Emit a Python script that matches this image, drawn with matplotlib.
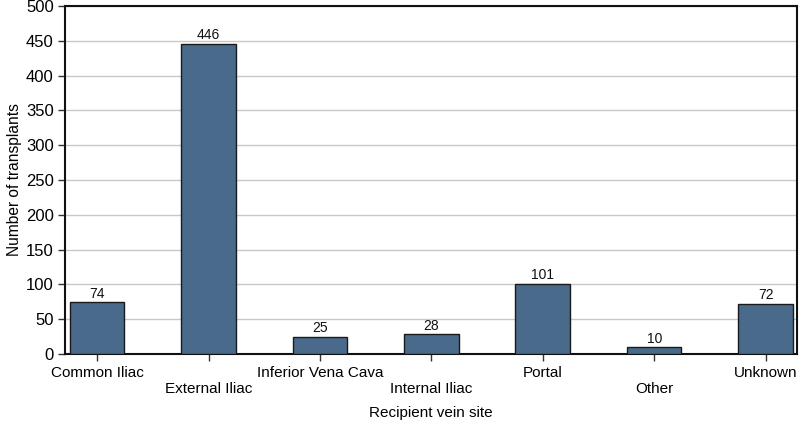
import matplotlib.pyplot as plt
import numpy as np

plt.rcParams.update({'font.family': ['Liberation Sans', 'DejaVu Sans']})

sites = ['Common Iliac', 'External Iliac', 'Inferior Vena Cava', 'Internal Iliac',
         'Portal', 'Other', 'Unknown']
counts = [74, 446, 25, 28, 101, 10, 72]
yticks = list(range(0, 501, 50))

fig = plt.figure(figsize=(8, 4.28), dpi=100)
ax = fig.add_axes([0.081, 0.173, 0.915, 0.813])

x = np.arange(len(sites))
bars = ax.bar(x, counts, width=0.49, color='#4a6a8b', edgecolor='#1a1a1a',
              linewidth=1, zorder=3)
for b, v in zip(bars, counts):
    ax.text(b.get_x() + b.get_width() / 2, v + 2, str(v), ha='center', va='bottom',
            fontsize=10, color='#111111')

ax.set_xlim(-0.29, 6.28)
ax.set_ylim(0, 500)
ax.set_yticks(yticks)
ax.set_xticks(x)
ax.set_xticklabels([s if i % 2 == 0 else '\n' + s for i, s in enumerate(sites)])
ax.tick_params(axis='x', labelsize=11, length=5, width=1, color='#333333')
ax.tick_params(axis='y', labelsize=12, length=5, width=1, color='#333333', pad=3)
ax.grid(axis='y', color='#c8c8c8', linewidth=1, zorder=0)
for s in ax.spines.values():
    s.set_linewidth(1.5)
    s.set_color('#111111')

ax.set_xlabel('Recipient vein site', fontsize=11, labelpad=7)
ax.set_ylabel('Number of transplants', fontsize=11.2, labelpad=3)

fig.savefig('out.png', dpi=100)
